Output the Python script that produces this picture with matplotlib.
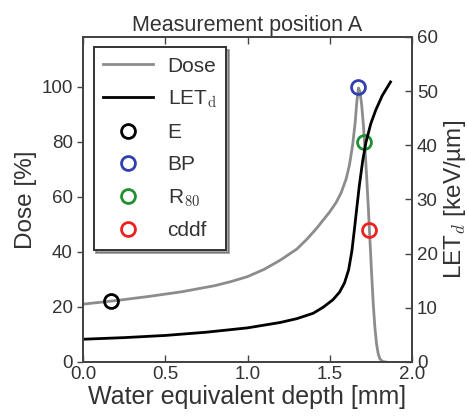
import matplotlib
matplotlib.use("Agg")
import matplotlib.pyplot as plt

plt.rcParams['font.family'] = ['Liberation Sans', 'DejaVu Sans']
plt.rcParams['mathtext.fontset'] = 'cm'

depth_dose = [0.0, 0.2, 0.4, 0.6, 0.8, 0.9, 1.0, 1.1, 1.2, 1.3, 1.36, 1.42, 1.46, 1.5, 1.54,
              1.57, 1.6, 1.62, 1.64, 1.655, 1.665, 1.675, 1.685, 1.695, 1.705, 1.715, 1.725,
              1.735, 1.745, 1.755, 1.765, 1.775, 1.785, 1.795, 1.805, 1.82, 1.84]
dose = [21.0, 22.3, 23.8, 25.5, 27.7, 29.2, 31.0, 33.6, 37.0, 41.0, 44.5, 48.5, 51.5, 54.5, 58.0,
        61.5, 66.5, 71.5, 79.0, 87.0, 94.5, 99.5, 98.0, 93.0, 86.0, 77.0, 67.0,
        56.0, 44.0, 32.0, 21.0, 12.5, 6.5, 3.0, 1.2, 0.2, 0.0]

depth_let = [0.0, 0.25, 0.5, 0.75, 1.0, 1.2, 1.3, 1.4, 1.46, 1.52, 1.56, 1.59, 1.615, 1.635,
             1.65, 1.665, 1.68, 1.70, 1.72, 1.75, 1.78, 1.82, 1.87]
let_d = [4.2, 4.5, 4.9, 5.5, 6.3, 7.3, 8.0, 9.0, 10.1, 11.5, 12.9, 14.6, 17.0, 20.5,
         24.4, 28.5, 32.5, 37.0, 40.5, 44.0, 46.5, 49.2, 51.7]

marker_names = ['E', 'BP', 'R$_{\\mathrm{80}}$', 'cddf']
marker_x = [0.17, 1.675, 1.71, 1.74]
marker_y = [22.0, 100.0, 80.0, 48.0]
marker_colors = ['black', '#3040b0', '#209030', '#ee2020']

text_c = '#333333'
fig = plt.figure(figsize=(4.67, 4.18), dpi=100)
ax1 = fig.add_axes([0.178, 0.134, 0.704, 0.7775])
ax2 = ax1.twinx()

h_dose, = ax1.plot(depth_dose, dose, color='#8c8c8c', lw=2.0, label='Dose')
h_let, = ax2.plot(depth_let, let_d, color='black', lw=2.0, label='LET$_{\\mathrm{d}}$')
handles = [h_dose, h_let]
for name, mx, my, mc in zip(marker_names, marker_x, marker_y, marker_colors):
    h, = ax1.plot([mx], [my], 'o', ms=10, mfc='none', mec=mc, mew=2.0, label=name)
    handles.append(h)

ax1.set_xlim(0, 2.0)
ax1.set_ylim(0, 118)
ax2.set_ylim(0, 60)
ax1.set_xticks([0.0, 0.5, 1.0, 1.5, 2.0])
ax1.set_yticks([0, 20, 40, 60, 80, 100])
ax2.set_yticks([0, 10, 20, 30, 40, 50, 60])

for ax in (ax1, ax2):
    for s in ax.spines.values():
        s.set_color('#444444')
        s.set_linewidth(1.4)
ax1.tick_params(axis='x', direction='in', top=True, length=5, width=1, colors='#444444',
                labelsize=13.5, labelcolor=text_c, pad=3)
ax1.tick_params(axis='y', direction='out', length=4, width=1, colors='#444444',
                labelsize=13.5, labelcolor=text_c)
ax2.tick_params(axis='y', direction='in', length=5, width=1, colors='#444444',
                labelsize=13.5, labelcolor=text_c)

ax1.set_xlabel('Water equivalent depth [mm]', fontsize=18, color=text_c, labelpad=1)
ax1.set_ylabel('Dose [%]', fontsize=17.5, color=text_c, labelpad=3)
ax2.set_ylabel('LET$_{d}$ [keV/µm]', fontsize=17.5, color=text_c, labelpad=3)
ax1.set_title('Measurement position A', fontsize=15.5, color=text_c, pad=4)

leg = ax2.legend(handles=handles, loc='upper left', fontsize=15, numpoints=1,
                 handlelength=2.4, handletextpad=0.7, labelspacing=0.62,
                 borderpad=0.45, borderaxespad=0.5, fancybox=False, shadow=True,
                 framealpha=1)
leg.get_frame().set_edgecolor('#333333')
leg.get_frame().set_linewidth(1.4)
for t in leg.get_texts():
    t.set_color(text_c)

fig.savefig('out.png', dpi=100)
